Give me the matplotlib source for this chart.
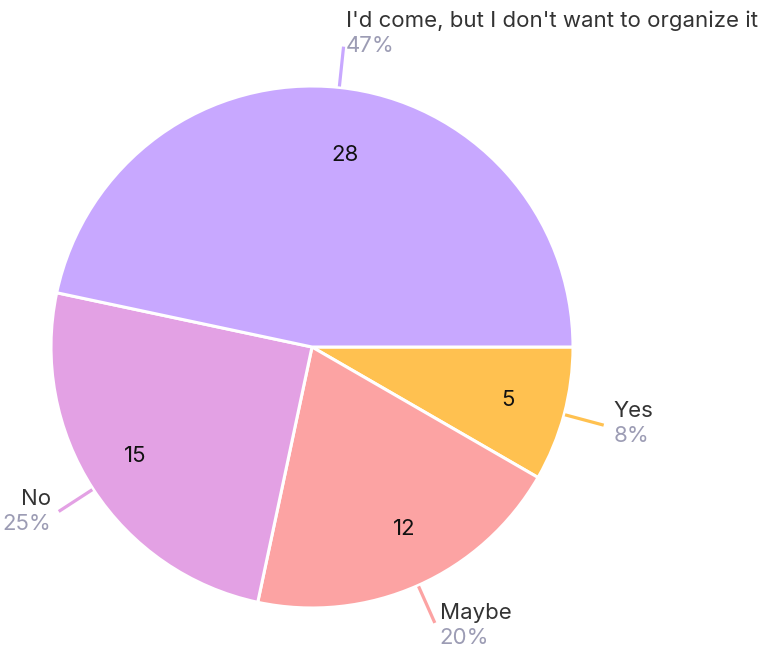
import numpy as np
import matplotlib
matplotlib.use("Agg")
import matplotlib.pyplot as plt

categories = ["Yes", "Maybe", "No", "I'd come, but I don't want to organize it"]
values = [5, 12, 15, 28]
colors = ["#ffc150", "#fca3a3", "#e3a1e4", "#c8a8ff"]

# label placement offsets (pixels, image coords) relative to leader-line end
label_dx = [10, 5, -8, 2]
label_dy = [-16, -12, -14, -28]
# small nudges of the inner value labels (pixels, image coords)
inner_dx = [2, 11, -8, 12]
inner_dy = [-1, -4, -2, 6]

W, H = 769, 648
fig = plt.figure(figsize=(W / 100, H / 100), dpi=100)
ax = fig.add_axes([0, 0, 1, 1])

cx, cy, R = 312, H - 347, 261
total = sum(values)
wedges, _ = ax.pie(values, colors=colors, startangle=0, counterclock=False,
                   center=(cx, cy), radius=R, frame=True,
                   wedgeprops=dict(edgecolor="white", linewidth=2.2))
ax.set_xlim(0, W)
ax.set_ylim(0, H)
ax.set_aspect("equal")
ax.axis("off")

font = ["Inter", "DejaVu Sans"]
fs = 16
for i, (w, cat, v, col) in enumerate(zip(wedges, categories, values, colors)):
    mid = np.deg2rad((w.theta1 + w.theta2) / 2)
    c, s = np.cos(mid), np.sin(mid)
    ax.text(cx + 0.77 * R * c + inner_dx[i], cy + 0.77 * R * s - inner_dy[i], str(v),
            ha="center", va="center_baseline", fontsize=fs, color="#111111", family=font)
    r1, r2 = R + 1, R + 41
    ax.plot([cx + r1 * c, cx + r2 * c], [cy + r1 * s, cy + r2 * s], color=col,
            lw=2.3, solid_capstyle="butt")
    ex, ey = cx + r2 * c, cy + r2 * s
    pct = f"{round(100 * v / total)}%"
    ha = "left" if label_dx[i] > 0 else "right"
    tx = ex + label_dx[i]
    name_base = ey - label_dy[i] - 8
    ax.text(tx, name_base, cat, ha=ha, va="baseline", fontsize=fs,
            color="#333333", family=font)
    ax.text(tx, name_base - 25, pct, ha=ha, va="baseline", fontsize=fs,
            color="#9c9cb4", family=font)

fig.savefig("out.png", dpi=100)
